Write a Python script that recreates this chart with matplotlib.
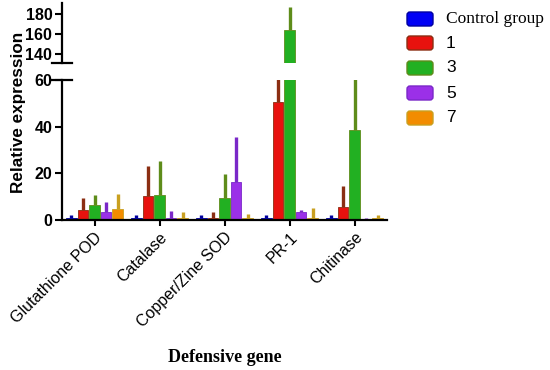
import matplotlib
matplotlib.use("Agg")
import matplotlib.pyplot as plt
import numpy as np
from matplotlib.patches import FancyBboxPatch

genes = ["Glutathione POD", "Catalase", "Copper/Zine SOD", "PR-1", "Chitinase"]
groups = ["Control group", "1", "3", "5", "7"]
control = [1.0, 1.0, 1.0, 1.0, 1.0]
g1 = [4.3, 10.3, 1.0, 50.7, 5.7]
g3 = [6.4, 10.7, 9.3, 164.0, 38.6]
g5 = [3.6, 1.0, 16.4, 3.5, 0.5]
g7 = [4.7, 1.0, 1.0, 1.0, 1.0]
control_err = [1.0, 1.0, 1.0, 1.0, 1.0]
g1_err = [5.3, 13.0, 2.5, 11.0, 9.0]
g3_err = [4.3, 14.6, 10.3, 23.0, 23.0]
g5_err = [4.2, 3.0, 19.0, 1.0, 0.3]
g7_err = [6.3, 2.5, 1.5, 4.0, 1.0]

values = [control, g1, g3, g5, g7]
errors = [control_err, g1_err, g3_err, g5_err, g7_err]
face = ["#0000F5", "#E8120E", "#22B022", "#9B30E8", "#F28C00"]
errc = ["#0000A0", "#8B2E12", "#5E8C1A", "#7A28C8", "#C9A020"]

W, H = 5.5, 3.7
fig = plt.figure(figsize=(W, H), dpi=100)
px = lambda x: x / 550
py = lambda y: (370 - y) / 370

ax_lo = fig.add_axes([px(62), py(220), px(387) - px(62), py(80) - py(220)])
ax_hi = fig.add_axes([px(62), py(63), px(387) - px(62), py(3) - py(63)])

x = np.arange(len(genes))
step = 0.177
bw = 0.16
for ax in (ax_lo, ax_hi):
    for i, (v, e) in enumerate(zip(values, errors)):
        pos = x + (i - 2) * step
        ax.bar(pos, v, width=bw, color=face[i], edgecolor=errc[i], linewidth=0.6, zorder=2)
        ax.errorbar(pos, v, yerr=[np.zeros(len(e)), e], fmt="none", ecolor=errc[i],
                    elinewidth=2.4, capsize=0, zorder=1)
    ax.set_xlim(-0.5, 4.5)
    for s in ("top", "right"):
        ax.spines[s].set_visible(False)
    ax.spines["left"].set_linewidth(1.6)
    ax.tick_params(axis="y", width=1.5, length=5, labelsize=11.5, pad=2)

ax_lo.set_ylim(0, 60)
ax_lo.set_yticks([0, 20, 40, 60])
ax_hi.set_ylim(131, 191)
ax_hi.set_yticks([140, 160, 180])
for ax in (ax_lo, ax_hi):
    for lab in ax.get_yticklabels():
        lab.set_fontweight("bold")
        lab.set_fontfamily("Liberation Sans")

ax_hi.spines["bottom"].set_visible(False)
ax_hi.set_xticks([])
ax_lo.spines["bottom"].set_linewidth(1.6)
ax_lo.set_xticks(x)
ax_lo.set_xticklabels(genes, rotation=45, ha="right", rotation_mode="anchor",
                      fontsize=11.5, family="Liberation Sans")
ax_lo.tick_params(axis="x", width=1.5, length=4, pad=3)

# break marks
for ax, yv in ((ax_hi, 0), (ax_lo, 1)):
    ax.plot([-0.03, 0.03], [yv, yv], transform=ax.transAxes, color="black",
            lw=1.6, clip_on=False)

fig.text(px(19), py(112), "Relative expression", rotation=90, ha="center", va="center",
         fontsize=12.3, fontweight="bold", family="Liberation Sans")
fig.text(px(225), py(357), "Defensive gene", ha="center", va="center",
         fontsize=13, fontweight="bold", family="Liberation Serif")

# legend
ys = [19, 43, 68, 93, 118]
for i, (g, yy) in enumerate(zip(groups, ys)):
    p = FancyBboxPatch(((407 + 2) / 100, (370 - yy - 5) / 100), 0.22, 0.10,
                       boxstyle="round,pad=0.02,rounding_size=0.03",
                       transform=fig.dpi_scale_trans, facecolor=face[i],
                       edgecolor=errc[i], linewidth=1.0)
    fig.patches.append(p)
    fam = "Liberation Serif" if i == 0 else "Liberation Sans"
    fig.text(px(446), py(yy), g, ha="left", va="center", fontsize=12.5, family=fam)

fig.savefig("out.png", dpi=100)
